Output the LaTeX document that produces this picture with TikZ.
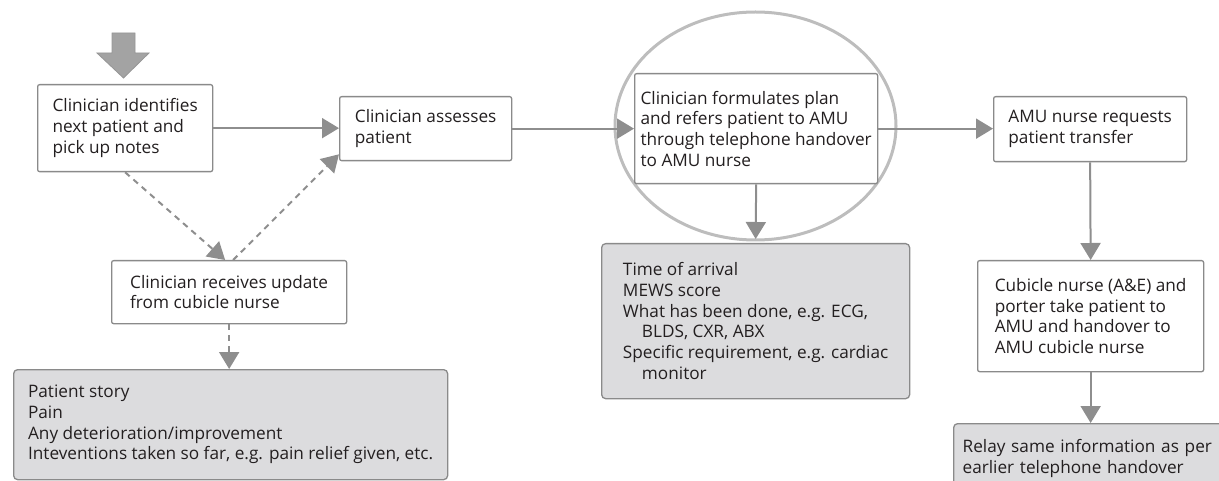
\documentclass[tikz,border=0pt]{standalone}
\usepackage{fontspec}
\setmainfont{Open Sans}
\usetikzlibrary{arrows.meta,shapes.geometric}
\definecolor{ink}{HTML}{231F20}
\definecolor{edge}{HTML}{8A8A8A}
\definecolor{wire}{HTML}{8E8E8E}
\definecolor{note}{HTML}{DCDCDE}
\definecolor{halo}{HTML}{BDBDBD}
\definecolor{bigfill}{HTML}{A3A3A3}
\definecolor{bigedge}{HTML}{969696}

\begin{document}
\begin{tikzpicture}[x=1pt,y=-1pt,
  every node/.style={font=\fontsize{17.2}{20.7}\selectfont, text=ink},
  box/.style={draw=edge, line width=1.3pt, fill=white, rounded corners=2pt,
    anchor=north west, align=left, inner sep=0pt},
  notebox/.style={box, fill=note, rounded corners=4pt},
  flow/.style={draw=wire, line width=2pt, -{Triangle[length=17pt,width=20pt]}},
  hint/.style={flow, dash pattern=on 6pt off 5pt},
]
\useasboundingbox (0,0) rectangle (1219,481);
\clip (0,0) rectangle (1219,481);

% highlight ring round the referral step
\node[ellipse, draw=halo, line width=3pt, minimum width=281pt, minimum height=228pt,
  inner sep=0pt] (ring) at (755.5,126) {};

% process steps
\node[box, minimum width=175pt, minimum height=87pt] (pick) at (37,84)
  {Clinician identifies\\next patient and\\pick up notes};
\node[box, minimum width=172pt, minimum height=64pt] (assess) at (339,96)
  {Clinician assesses\\patient};
\node[box, minimum width=235pt, minimum height=63pt] (update) at (111,260)
  {Clinician receives update\\from cubicle nurse};
\node[box, minimum width=243pt, minimum height=110pt] (plan) at (634,73)
  {Clinician formulates plan\\and refers patient to AMU\\through telephone handover\\to AMU nurse};
\node[box, minimum width=193pt, minimum height=65pt] (request) at (993,96)
  {AMU nurse requests\\patient transfer};
\node[box, minimum width=226pt, minimum height=111pt] (transfer) at (977,260)
  {Cubicle nurse (A\&E) and\\porter take patient to\\AMU and handover to\\AMU cubicle nurse};

% information notes
\node[notebox, minimum width=434pt, minimum height=110pt] (story) at (13,369)
  {Patient story\\Pain\\Any deterioration/improvement\\Inteventions taken so far, e.g. pain relief given, etc.};
\node[notebox, minimum width=308pt, minimum height=155pt] (info) at (601,243)
  {Time of arrival\\MEWS score\\What has been done, e.g. ECG,\\\hspace*{19pt}BLDS, CXR, ABX\\Specific requirement, e.g. cardiac\\\hspace*{19pt}monitor};
\node[notebox, minimum height=69pt, text width=282pt, inner xsep=9pt] (relay) at (953,423)
  {Relay same information as per\\earlier telephone handover};

% entry arrow
\draw[fill=bigfill, draw=bigedge, line width=0.8pt]
  (112,33) -- (135,33) -- (135,53) -- (149,53) -- (123.5,78) -- (97,53) -- (112,53) -- cycle;

% main flow
\draw[flow] (pick.east) -- (pick.east -| assess.west);
\draw[flow] (assess.east) -- (plan.west);
\draw[flow] (plan.east) -- (plan.east -| request.west);
\draw[flow, shorten >=4pt] (plan.south) -- (info.north);
\draw[flow] (request.south) -- (transfer.north);
\draw[flow] (transfer.south) -- (transfer.south |- relay.north);

% side information paths
\draw[hint] (pick.south) -- ([xshift=-4pt]update.north);
\draw[hint] ([xshift=4pt]update.north) -- ([yshift=7pt]assess.south west);
\draw[hint] (update.south) -- (story.north -| update.south);
\end{tikzpicture}
\end{document}
